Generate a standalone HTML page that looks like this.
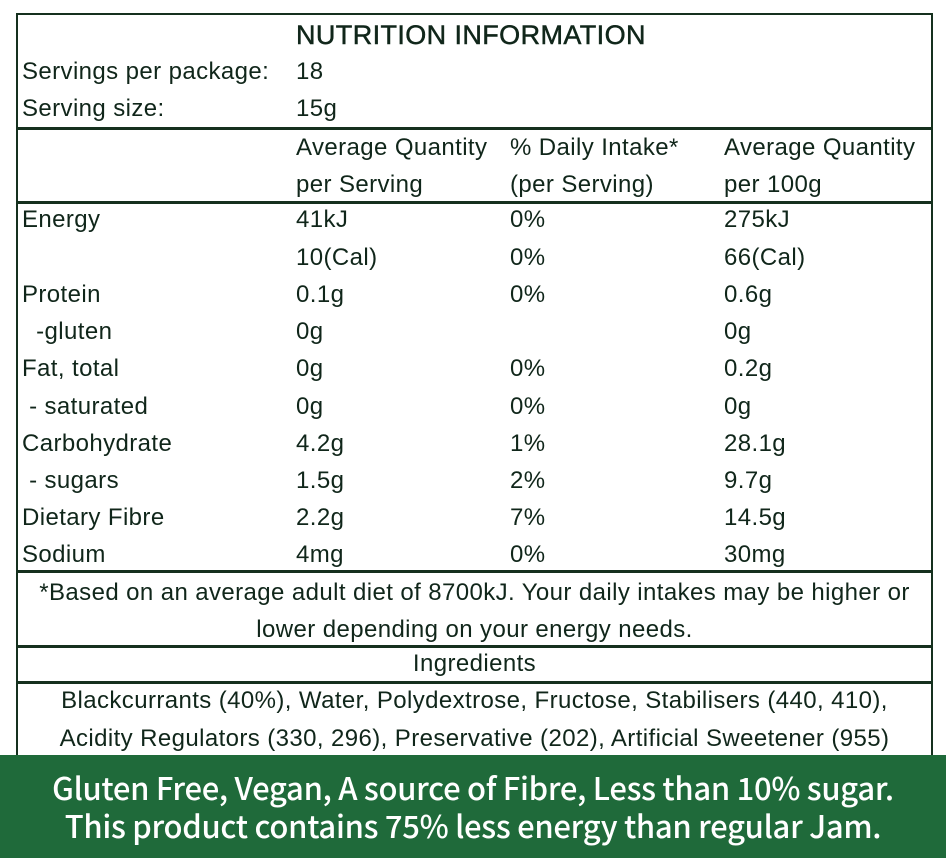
<!DOCTYPE html>
<html><head><meta charset="utf-8"><style>
body{margin:0;width:946px;height:858px;background:#fff;position:relative;overflow:hidden;font-family:"Liberation Sans",Arial,sans-serif;color:#10261a}
.box{position:absolute;left:16px;top:13px;width:917px;height:760px;border:2.5px solid #15301e;box-sizing:border-box}
.h{position:absolute;left:16px;width:917px;height:2.5px;background:#15301e}
.t{position:absolute;font-size:24px;white-space:nowrap;line-height:24px;letter-spacing:0.4px}
.band{position:absolute;left:0;top:755px;width:946px;height:103px;background:#1f6a3a;color:#fff;font-family:"Noto Sans CJK SC",sans-serif;font-weight:500;font-size:31px;text-align:center;line-height:38px;padding-top:13px;box-sizing:border-box;letter-spacing:-0.3px}
</style></head><body>
<div class="box"></div>
<div class="h" style="top:127px"></div>
<div class="h" style="top:201px"></div>
<div class="h" style="top:570px"></div>
<div class="h" style="top:645px"></div>
<div class="h" style="top:681px"></div>
<div class="t" style="left:296px;top:23px;font-size:27px;letter-spacing:0.4px;-webkit-text-stroke:0.5px #10261a">NUTRITION INFORMATION</div>
<div class="t" style="left:22px;top:60px">Servings per package:</div><div class="t" style="left:296px;top:60px">18</div>
<div class="t" style="left:22px;top:97px">Serving size:</div><div class="t" style="left:296px;top:97px">15g</div>
<div class="t" style="left:296px;top:136px">Average Quantity</div>
<div class="t" style="left:510px;top:136px">% Daily Intake*</div>
<div class="t" style="left:724px;top:136px">Average Quantity</div>
<div class="t" style="left:296px;top:173px">per Serving</div>
<div class="t" style="left:510px;top:173px">(per Serving)</div>
<div class="t" style="left:724px;top:173px">per 100g</div>
<div class="t" style="left:22px;top:208px">Energy</div><div class="t" style="left:296px;top:208px">41kJ</div><div class="t" style="left:510px;top:208px">0%</div><div class="t" style="left:724px;top:208px">275kJ</div>
<div class="t" style="left:296px;top:246px">10(Cal)</div><div class="t" style="left:510px;top:246px">0%</div><div class="t" style="left:724px;top:246px">66(Cal)</div>
<div class="t" style="left:22px;top:283px">Protein</div><div class="t" style="left:296px;top:283px">0.1g</div><div class="t" style="left:510px;top:283px">0%</div><div class="t" style="left:724px;top:283px">0.6g</div>
<div class="t" style="left:22px;top:320px">&nbsp;&nbsp;-gluten</div><div class="t" style="left:296px;top:320px">0g</div><div class="t" style="left:724px;top:320px">0g</div>
<div class="t" style="left:22px;top:357px">Fat, total</div><div class="t" style="left:296px;top:357px">0g</div><div class="t" style="left:510px;top:357px">0%</div><div class="t" style="left:724px;top:357px">0.2g</div>
<div class="t" style="left:22px;top:395px">&nbsp;- saturated</div><div class="t" style="left:296px;top:395px">0g</div><div class="t" style="left:510px;top:395px">0%</div><div class="t" style="left:724px;top:395px">0g</div>
<div class="t" style="left:22px;top:432px">Carbohydrate</div><div class="t" style="left:296px;top:432px">4.2g</div><div class="t" style="left:510px;top:432px">1%</div><div class="t" style="left:724px;top:432px">28.1g</div>
<div class="t" style="left:22px;top:469px">&nbsp;- sugars</div><div class="t" style="left:296px;top:469px">1.5g</div><div class="t" style="left:510px;top:469px">2%</div><div class="t" style="left:724px;top:469px">9.7g</div>
<div class="t" style="left:22px;top:506px">Dietary Fibre</div><div class="t" style="left:296px;top:506px">2.2g</div><div class="t" style="left:510px;top:506px">7%</div><div class="t" style="left:724px;top:506px">14.5g</div>
<div class="t" style="left:22px;top:543px">Sodium</div><div class="t" style="left:296px;top:543px">4mg</div><div class="t" style="left:510px;top:543px">0%</div><div class="t" style="left:724px;top:543px">30mg</div>
<div class="t" style="left:16px;width:917px;text-align:center;top:581px">*Based on an average adult diet of 8700kJ. Your daily intakes may be higher or</div>
<div class="t" style="left:16px;width:917px;text-align:center;top:618px">lower depending on your energy needs.</div>
<div class="t" style="left:16px;width:917px;text-align:center;top:652px">Ingredients</div>
<div class="t" style="left:16px;width:917px;text-align:center;top:689px">Blackcurrants (40%), Water, Polydextrose, Fructose, Stabilisers (440, 410),</div>
<div class="t" style="left:16px;width:917px;text-align:center;top:727px">Acidity Regulators (330, 296), Preservative (202), Artificial Sweetener (955)</div>
<div class="band">Gluten Free, Vegan, A source of Fibre, Less than 10% sugar.<br>This product contains 75% less energy than regular Jam.</div>
</body></html>
